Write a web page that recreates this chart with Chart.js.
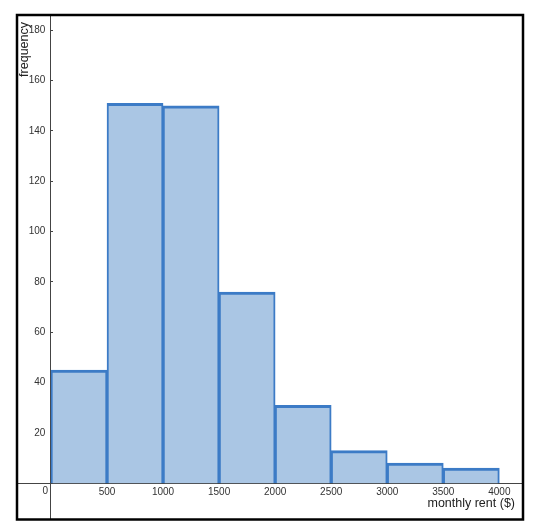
<!DOCTYPE html>
<html>
<head>
<meta charset="utf-8">
<script src="https://cdn.jsdelivr.net/npm/chart.js@4.4.1/dist/chart.umd.min.js"></script>
<style>
  html, body { margin: 0; padding: 0; background: #ffffff; }
  #wrap { width: 539px; height: 528px; position: relative; }
</style>
</head>
<body>
<div id="wrap"><canvas id="c" width="539" height="528"></canvas></div>
<script>
// ---- data ----
const binStarts = [0, 500, 1000, 1500, 2000, 2500, 3000, 3500];
const binWidth = 500;
const frequencies = [45, 151, 150, 76, 31, 13, 8, 6];
const xTickValues = [500, 1000, 1500, 2000, 2500, 3000, 3500, 4000];
const yTickValues = [20, 40, 60, 80, 100, 120, 140, 160, 180];
const xTitle = 'monthly rent ($)';
const yTitle = 'frequency';
const originLabel = '0';

const points = binStarts.map((s, i) => ({ x: s + binWidth / 2, y: frequencies[i] }));
const FONT = '"Liberation Sans", Arial, sans-serif';

const frame = {
  id: 'frame',
  afterDraw(chart) {
    const { ctx, chartArea: a } = chart;
    const xs = chart.scales.x, ys = chart.scales.y;
    ctx.save();
    // origin label
    ctx.fillStyle = '#333';
    ctx.font = '10px ' + FONT;
    ctx.textAlign = 'right';
    ctx.textBaseline = 'middle';
    ctx.fillText(originLabel, xs.getPixelForValue(0) - 3, ys.getPixelForValue(0) + 8);
    // axis titles
    ctx.fillStyle = '#222';
    ctx.font = '12.5px ' + FONT;
    ctx.textAlign = 'right';
    ctx.textBaseline = 'middle';
    ctx.fillText(xTitle, a.right - 8, ys.getPixelForValue(0) + 20);
    ctx.save();
    ctx.translate(a.left + 8, a.top + 7);
    ctx.rotate(-Math.PI / 2);
    ctx.textAlign = 'right';
    ctx.fillText(yTitle, 0, 0);
    ctx.restore();
    // frame
    ctx.strokeStyle = '#000';
    ctx.lineWidth = 2.5;
    ctx.strokeRect(a.left, a.top, a.right - a.left, a.bottom - a.top);
    ctx.restore();
  }
};

new Chart(document.getElementById('c'), {
  type: 'bar',
  data: {
    datasets: [{
      data: points,
      backgroundColor: '#aac6e4',
      borderColor: '#3c7bc6',
      borderWidth: { top: 3, left: 2, right: 2, bottom: 0 },
      borderSkipped: 'start',
      barPercentage: 1,
      categoryPercentage: 1
    }]
  },
  options: {
    responsive: false,
    animation: false,
    devicePixelRatio: 1,
    layout: { padding: { left: 17, top: 15, right: 16, bottom: 8.5 } },
    plugins: { legend: { display: false }, tooltip: { enabled: false } },
    scales: {
      x: {
        type: 'linear',
        position: { y: 0 },
        min: -303,
        max: 4211,
        offset: false,
        afterBuildTicks: s => { s.ticks = xTickValues.map(v => ({ value: v })); },
        grid: { display: false, drawTicks: false },
        border: { display: true, color: '#444', width: 1 },
        ticks: {
          color: '#333',
          font: { family: FONT, size: 10 },
          padding: 3,
          maxRotation: 0,
          autoSkip: false,
          callback: v => String(v)
        }
      },
      y: {
        type: 'linear',
        position: { x: 0 },
        min: -14.4,
        max: 186.1,
        afterBuildTicks: s => { s.ticks = yTickValues.map(v => ({ value: v })); },
        grid: { display: true, drawOnChartArea: false, drawTicks: true, tickLength: -3, color: '#444' },
        border: { display: true, color: '#444', width: 1 },
        ticks: {
          color: '#333',
          font: { family: FONT, size: 10 },
          padding: 0,
          autoSkip: false,
          callback: v => String(v) + '  '
        }
      }
    }
  },
  plugins: [frame]
});
</script>
</body>
</html>
